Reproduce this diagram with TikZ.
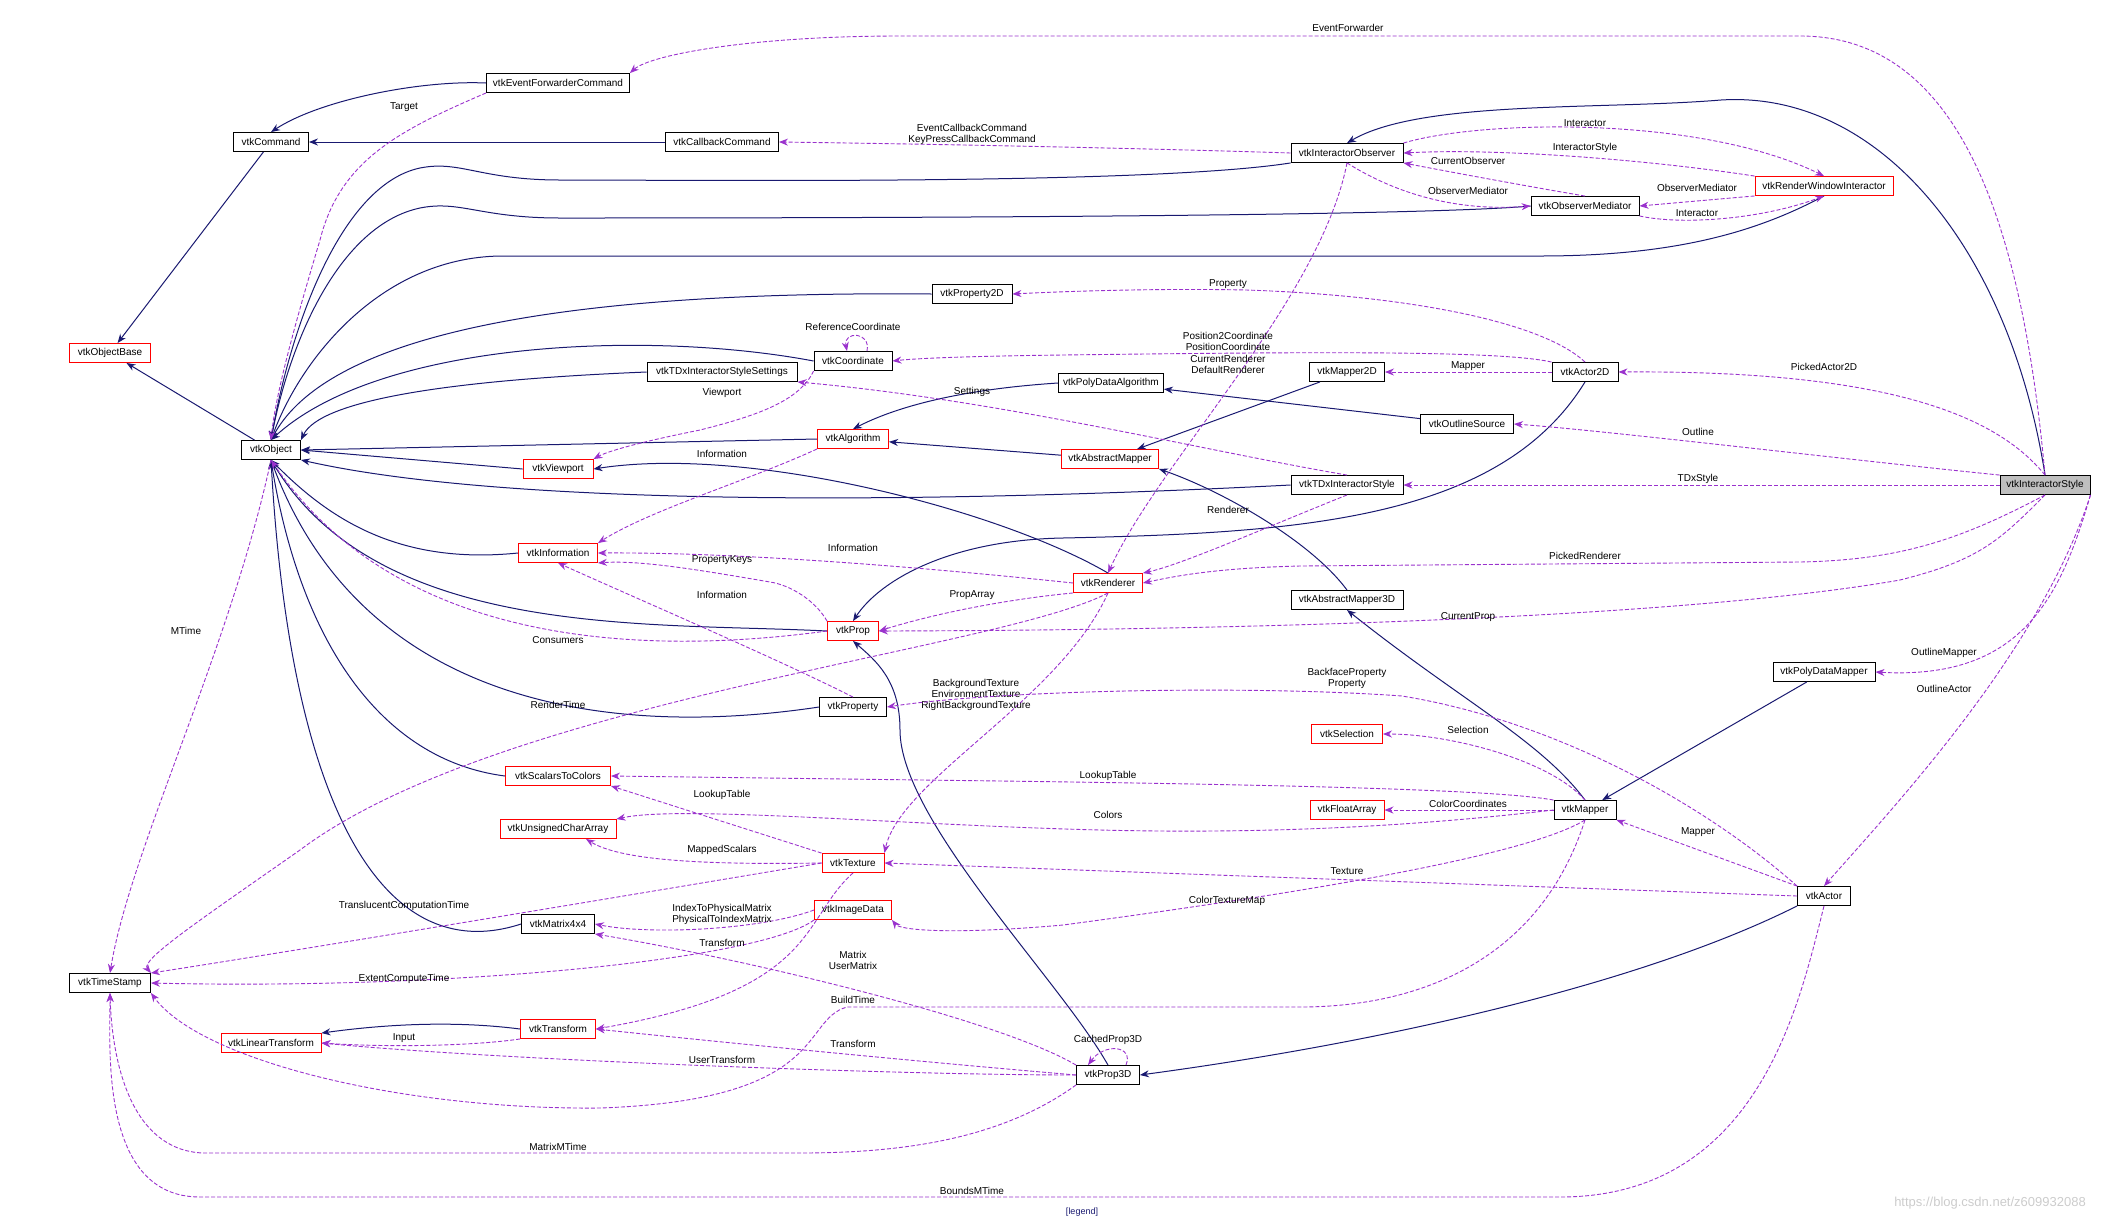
\documentclass[tikz,border=0pt]{standalone}
\usepackage{fontspec}
\setmainfont{Liberation Sans}
\usetikzlibrary{arrows.meta}
\definecolor{mblue}{HTML}{191970}
\definecolor{dpur}{HTML}{9A32CD}
\begin{document}
\begin{tikzpicture}[x=1pt,y=-1pt,
  cls/.style={draw=black,fill=white,line width=0.9pt,minimum height=19pt,inner sep=1pt,font=\fontsize{10}{11}\selectfont},
  rcls/.style={cls,draw=red},
  inh/.style={draw=mblue,line width=1pt,-{Stealth[length=9pt,width=7pt]}},
  dep/.style={draw=dpur,line width=0.9pt,dash pattern=on 4pt off 2pt,-{Stealth[length=9pt,width=7pt]}},
  lab/.style={font=\fontsize{10}{11}\selectfont,inner sep=0pt,align=center}]
\useasboundingbox (0,0) rectangle (2126,1219);
% nodes
\node[cls,minimum width=143] (EFC) at (558,83) {vtkEventForwarderCommand};
\node[cls,minimum width=75] (Cmd) at (271,142) {vtkCommand};
\node[cls,minimum width=113] (CbC) at (722,142) {vtkCallbackCommand};
\node[rcls,minimum width=81] (OB) at (110,353) {vtkObjectBase};
\node[cls,minimum width=59] (Obj) at (271,450) {vtkObject};
\node[cls,minimum width=80] (P2D) at (972,294) {vtkProperty2D};
\node[cls,minimum width=78] (Coord) at (853,361) {vtkCoordinate};
\node[cls,minimum width=150] (TDxS) at (722,372) {vtkTDxInteractorStyleSettings};
\node[rcls,minimum width=71] (Alg) at (853,439) {vtkAlgorithm};
\node[rcls,minimum width=70] (VP) at (558,469) {vtkViewport};
\node[rcls,minimum width=79] (Info) at (558,553) {vtkInformation};
\node[cls,minimum width=112] (IO) at (1347,153) {vtkInteractorObserver};
\node[rcls,minimum width=138] (RWI) at (1824,186) {vtkRenderWindowInteractor};
\node[cls,minimum width=108] (OM) at (1585,206) {vtkObserverMediator};
\node[cls,minimum width=75] (M2D) at (1347,372) {vtkMapper2D};
\node[cls,minimum width=66] (A2D) at (1585,372) {vtkActor2D};
\node[cls,minimum width=105] (PDA) at (1111,383) {vtkPolyDataAlgorithm};
\node[cls,minimum width=93] (OS) at (1467,424) {vtkOutlineSource};
\node[rcls,minimum width=97] (AM) at (1110,459) {vtkAbstractMapper};
\node[cls,minimum width=112] (TDx) at (1347,485) {vtkTDxInteractorStyle};
\node[cls,fill=black!25,minimum width=90] (IS) at (2045,485) {vtkInteractorStyle};
\node[rcls,minimum width=69] (Ren) at (1108,583) {vtkRenderer};
\node[cls,minimum width=112] (AM3D) at (1347,600) {vtkAbstractMapper3D};
\node[rcls,minimum width=51] (Prop) at (853,631) {vtkProp};
\node[cls,minimum width=67] (Property) at (853,707) {vtkProperty};
\node[rcls,minimum width=105] (S2C) at (558,776) {vtkScalarsToColors};
\node[rcls,minimum width=116] (UCA) at (558,829) {vtkUnsignedCharArray};
\node[rcls,minimum width=62] (Tex) at (853,863) {vtkTexture};
\node[rcls,minimum width=77] (ImgD) at (853,910) {vtkImageData};
\node[cls,minimum width=73] (M44) at (558,924) {vtkMatrix4x4};
\node[cls,minimum width=81] (TS) at (110,983) {vtkTimeStamp};
\node[rcls,minimum width=75] (Tr) at (558,1029) {vtkTransform};
\node[rcls,minimum width=100] (LT) at (271,1043) {vtkLinearTransform};
\node[cls,minimum width=102] (PDM) at (1824,672) {vtkPolyDataMapper};
\node[rcls,minimum width=71] (Sel) at (1347,734) {vtkSelection};
\node[cls,minimum width=62] (Map) at (1585,810) {vtkMapper};
\node[rcls,minimum width=74] (FA) at (1347,810) {vtkFloatArray};
\node[cls,minimum width=53] (Act) at (1824,896) {vtkActor};
\node[cls,minimum width=63] (P3D) at (1108,1075) {vtkProp3D};
% inheritance
\draw[inh] (EFC.west) .. controls (420,80) and (320,100) .. (Cmd.north);
\draw[inh] (CbC) -- (Cmd);
\draw[inh] (Cmd) -- (OB);
\draw[inh] (Obj) -- (OB);
\draw[inh] (IO.south west) .. controls (1150,185) and (700,180) .. (560,180) .. controls (480,180) and (460,160) .. (420,168) .. controls (340,185) and (290,330) .. (Obj.north);
\draw[inh] (OM.west) .. controls (1400,218) and (700,218) .. (560,218) .. controls (480,218) and (460,200) .. (420,208) .. controls (340,225) and (290,340) .. (Obj.north);
\draw[inh] (RWI.south) .. controls (1760,230) and (1680,256) .. (1540,256) -- (500,256) .. controls (380,258) and (300,360) .. (Obj.north);
\draw[inh] (P2D.west) .. controls (500,290) and (320,350) .. (Obj.north);
\draw[inh] (Coord.west) .. controls (650,330) and (380,340) .. (Obj.north);
\draw[inh] (TDxS.west) .. controls (450,380) and (320,400) .. (Obj.north east);
\draw[inh] (Alg.west) -- (Obj.east);
\draw[inh] (VP.west) -- (Obj.east);
\draw[inh] (TDx.west) .. controls (900,505) and (500,505) .. (Obj.south east);
\draw[inh] (Info.west) .. controls (400,565) and (330,520) .. (Obj.south);
\draw[inh] (Prop.west) .. controls (650,622) and (380,640) .. (Obj.south);
\draw[inh] (Property.west) .. controls (600,740) and (360,700) .. (Obj.south);
\draw[inh] (S2C.west) .. controls (380,760) and (300,640) .. (Obj.south);
\draw[inh] (M44.west) .. controls (380,970) and (290,800) .. (Obj.south);
\draw[inh] (IS.north) .. controls (2010,250) and (1880,90) .. (1721,100) .. controls (1600,110) and (1420,100) .. (IO.north);
\draw[inh] (Ren.north) .. controls (1000,510) and (750,445) .. (VP.east);
\draw[inh] (PDA.west) .. controls (950,390) and (890,410) .. (Alg.north);
\draw[inh] (AM) -- (Alg);
\draw[inh] (OS) -- (PDA);
\draw[inh] (M2D) -- (AM);
\draw[inh] (AM3D.north) .. controls (1310,540) and (1220,490) .. (AM.south east);
\draw[inh] (A2D.south) .. controls (1500,520) and (1300,533) .. (1063,538) .. controls (950,540) and (880,580) .. (Prop.north);
\draw[inh] (Map.north) .. controls (1540,740) and (1460,700) .. (AM3D.south);
\draw[inh] (PDM) -- (Map);
\draw[inh] (P3D.north) .. controls (1060,980) and (900,820) .. (900,730) .. controls (900,680) and (875,660) .. (Prop.south);
\draw[inh] (Act.south west) .. controls (1650,980) and (1400,1040) .. (P3D.east);
\draw[inh] (Tr.west) .. controls (450,1020) and (380,1025) .. (LT.north east);
% dependencies
\draw[dep] (IS.north) .. controls (2020,200) and (1950,36) .. (1800,36) -- (900,36) .. controls (750,36) and (650,55) .. (EFC.north east);
\node[lab] (l1) at (1348,28) {EventForwarder};
\draw[dep] (EFC.south west) .. controls (400,130) and (340,160) .. (320,240) .. controls (290,340) and (275,400) .. (Obj.north);
\node[lab] (l2) at (404,107) {Target};
\draw[dep] (IO.west) .. controls (1200,150) and (1000,145) .. (CbC.east);
\node[lab] (l3) at (972,134) {EventCallbackCommand\\KeyPressCallbackCommand};
\draw[dep] (IO.north east) .. controls (1480,120) and (1700,115) .. (RWI.north);
\node[lab] (l4) at (1585,123) {Interactor};
\draw[dep] (RWI.north west) .. controls (1650,160) and (1500,148) .. (IO.east);
\node[lab] (l5) at (1585,148) {InteractorStyle};
\draw[dep] (OM.north) .. controls (1520,185) and (1440,170) .. (IO.south east);
\node[lab] (l6) at (1468,161) {CurrentObserver};
\draw[dep] (IO.south) .. controls (1390,190) and (1450,212) .. (OM.west);
\node[lab] (l7) at (1468,191) {ObserverMediator};
\draw[dep] (RWI.south west) -- (OM.east);
\node[lab] (l8) at (1697,188) {ObserverMediator};
\draw[dep] (OM.south east) .. controls (1680,225) and (1760,220) .. (RWI.south);
\node[lab] (l9) at (1697,213) {Interactor};
\draw[dep] (IO.south) .. controls (1320,300) and (1160,460) .. (Ren.north);
\node[lab] (l10) at (1228,364) {CurrentRenderer\\DefaultRenderer};
\draw[dep] (A2D.north) .. controls (1540,320) and (1400,295) .. (1246,290) .. controls (1150,288) and (1050,292) .. (P2D.east);
\node[lab] (l11) at (1228,284) {Property};
\draw[dep] (A2D.north west) .. controls (1500,350) and (1300,352) .. (1063,355) .. controls (980,356) and (920,358) .. (Coord.east);
\node[lab] (l12) at (1228,341) {Position2Coordinate\\PositionCoordinate};
\draw[dep] ([xshift=14pt]Coord.north) .. controls ([xshift=18pt,yshift=20pt]Coord.north) and ([xshift=-10pt,yshift=20pt]Coord.north) .. ([xshift=-6pt]Coord.north);
\node[lab] (l13) at (853,327) {ReferenceCoordinate};
\draw[dep] (Coord.south west) .. controls (800,400) and (760,415) .. (700,430) .. controls (650,440) and (610,450) .. (VP.north east);
\node[lab] (l14) at (722,393) {Viewport};
\draw[dep] (A2D) -- (M2D);
\node[lab] (l15) at (1468,366) {Mapper};
\draw[dep] (IS.north) .. controls (2000,420) and (1900,370) .. (A2D.east);
\node[lab] (l16) at (1824,367) {PickedActor2D};
\draw[dep] (IS.north west) .. controls (1850,460) and (1600,430) .. (OS.east);
\node[lab] (l17) at (1698,432) {Outline};
\draw[dep] (IS) -- (TDx);
\node[lab] (l18) at (1698,479) {TDxStyle};
\draw[dep] (TDx.north) .. controls (1200,450) and (1000,400) .. (TDxS.south east);
\node[lab] (l19) at (972,392) {Settings};
\draw[dep] (TDx.south) .. controls (1260,530) and (1180,565) .. (Ren.north east);
\node[lab] (l20) at (1228,510) {Renderer};
\draw[dep] (IS.south) .. controls (1960,540) and (1900,560) .. (1800,562) -- (1300,566) .. controls (1220,568) and (1180,575) .. (Ren.east);
\node[lab] (l21) at (1585,556) {PickedRenderer};
\draw[dep] (IS.south) .. controls (2000,540) and (1980,560) .. (1900,580) .. controls (1700,615) and (1300,630) .. (Prop.east);
\node[lab] (l22) at (1468,617) {CurrentProp};
\draw[dep] (IS.south east) .. controls (2060,600) and (2020,680) .. (PDM.east);
\node[lab] (l23) at (1944,653) {OutlineMapper};
\draw[dep] (IS.south east) .. controls (2040,650) and (1900,800) .. (Act.north);
\node[lab] (l24) at (1944,689) {OutlineActor};
\draw[dep] (Alg.south west) .. controls (750,480) and (650,510) .. (Info.north east);
\node[lab] (l25) at (722,454) {Information};
\draw[dep] (Ren.west) .. controls (950,570) and (750,552) .. (Info.east);
\node[lab] (l26) at (853,548) {Information};
\draw[dep] (Prop.north west) .. controls (815,600) and (790,585) .. (770,582) .. controls (700,570) and (640,560) .. (Info.south east);
\node[lab] (l27) at (722,560) {PropertyKeys};
\draw[dep] (Property.north) .. controls (780,660) and (640,600) .. (Info.south);
\node[lab] (l28) at (722,595) {Information};
\draw[dep] (Ren.south west) .. controls (1000,600) and (930,615) .. (Prop.east);
\node[lab] (l29) at (972,595) {PropArray};
\draw[dep] (Prop.west) .. controls (650,655) and (400,650) .. (Obj.south);
\node[lab] (l30) at (558,640) {Consumers};
\draw[dep] (Ren.south) .. controls (1000,650) and (500,700) .. (300,850) .. controls (200,920) and (140,960) .. (TS.north east);
\node[lab] (l31) at (558,705) {RenderTime};
\draw[dep] (Ren.south) .. controls (1060,700) and (900,780) .. (Tex.north east);
\node[lab] (l32) at (976,695) {BackgroundTexture\\EnvironmentTexture\\RightBackgroundTexture};
\draw[dep] (Act.north west) .. controls (1700,800) and (1550,720) .. (1402,696) .. controls (1250,685) and (1000,690) .. (Property.east);
\node[lab] (l33) at (1347,678) {BackfaceProperty\\Property};
\draw[dep] (Map.north) .. controls (1550,760) and (1450,734) .. (Sel.east);
\node[lab] (l34) at (1468,730) {Selection};
\draw[dep] (Map.north west) .. controls (1500,790) and (1300,785) .. (1000,781) -- (S2C.east);
\node[lab] (l35) at (1108,776) {LookupTable};
\draw[dep] (Tex.north west) -- (S2C.south east);
\node[lab] (l36) at (722,795) {LookupTable};
\draw[dep] (Map.west) .. controls (1450,822) and (1300,835) .. (1100,830) .. controls (900,825) and (680,805) .. (UCA.north east);
\node[lab] (l37) at (1108,815) {Colors};
\draw[dep] (Tex.west) .. controls (700,865) and (620,860) .. ([xshift=28pt]UCA.south);
\node[lab] (l38) at (722,850) {MappedScalars};
\draw[dep] (Map) -- (FA);
\node[lab] (l39) at (1468,804) {ColorCoordinates};
\draw[dep] (Act.north west) -- (Map.south east);
\node[lab] (l40) at (1698,832) {Mapper};
\draw[dep] (Act.west) -- (Tex.east);
\node[lab] (l41) at (1347,871) {Texture};
\draw[dep] (Map.south) .. controls (1520,860) and (1250,900) .. (1063,925) .. controls (950,935) and (900,930) .. (ImgD.south east);
\node[lab] (l42) at (1227,901) {ColorTextureMap};
\draw[dep] (Tex.west) .. controls (600,900) and (300,950) .. (TS.north east);
\node[lab] (l43) at (404,906) {TranslucentComputationTime};
\draw[dep] (ImgD.west) .. controls (760,930) and (650,935) .. (M44.east);
\node[lab] (l44) at (722,914) {IndexToPhysicalMatrix\\PhysicalToIndexMatrix};
\draw[dep] (ImgD.south west) .. controls (760,960) and (450,990) .. (TS.east);
\node[lab] (l45) at (404,979) {ExtentComputeTime};
\draw[dep] (Tex.south) .. controls (800,920) and (820,990) .. (Tr.east);
\node[lab] (l46) at (722,943) {Transform};
\draw[dep] (P3D.north west) .. controls (1000,1020) and (750,960) .. (M44.south east);
\node[lab] (l47) at (853,960) {Matrix\\UserMatrix};
\draw[dep] (Map.south) .. controls (1540,960) and (1420,1007) .. (1300,1007) -- (847,1007) .. controls (800,1020) and (830,1100) .. (600,1108) .. controls (400,1110) and (200,1060) .. (TS.south east);
\node[lab] (l48) at (853,1000) {BuildTime};
\draw[dep] (P3D.west) .. controls (900,1060) and (700,1040) .. (Tr.east);
\node[lab] (l49) at (853,1044) {Transform};
\draw[dep] (P3D.west) .. controls (900,1075) and (500,1060) .. (LT.east);
\node[lab] (l50) at (722,1060) {UserTransform};
\draw[dep] (Tr.south west) .. controls (480,1045) and (400,1048) .. (LT.east);
\node[lab] (l51) at (404,1038) {Input};
\draw[dep] (P3D.south west) .. controls (1000,1140) and (900,1153) .. (800,1153) -- (203,1153) .. controls (130,1150) and (112,1060) .. (TS.south);
\node[lab] (l52) at (558,1147) {MatrixMTime};
\draw[dep] (Act.south) .. controls (1800,1000) and (1760,1197) .. (1560,1197) -- (200,1197) .. controls (100,1197) and (110,1050) .. (TS.south);
\node[lab] (l53) at (972,1191) {BoundsMTime};
\draw[dep] (Obj.south) .. controls (230,650) and (130,850) .. (TS.north);
\node[lab] (l54) at (186,631) {MTime};
\draw[dep] ([xshift=18pt]P3D.north) .. controls ([xshift=26pt,yshift=20pt]P3D.north) and ([xshift=-4pt,yshift=22pt]P3D.north) .. ([xshift=-20pt]P3D.north);
\node[lab] (l55) at (1108,1040) {CachedProp3D};
\node[lab,text=mblue,font=\fontsize{9}{10}\selectfont] (leg) at (1082,1212) {[legend]};
\node[lab,text=black!20,font=\fontsize{13}{14}\selectfont] (wm) at (1990,1203) {https://blog.csdn.net/z609932088};
\end{tikzpicture}
\end{document}
